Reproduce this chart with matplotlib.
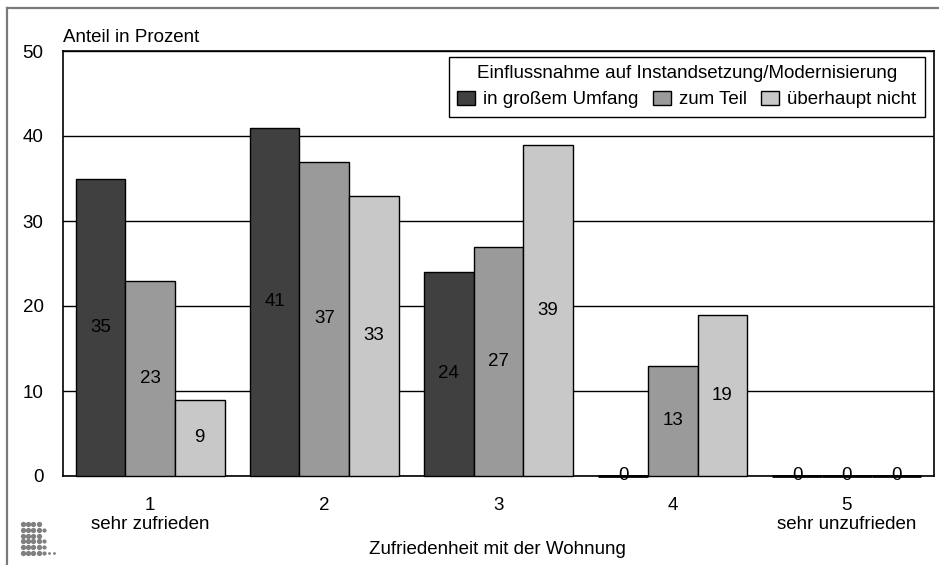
import matplotlib
matplotlib.use("Agg")
import matplotlib.pyplot as plt
import numpy as np
from matplotlib.lines import Line2D

categories = ["1\nsehr zufrieden", "2", "3", "4", "5\nsehr unzufrieden"]
series_names = ["in großem Umfang", "zum Teil", "überhaupt nicht"]
in_grossem_umfang = [35, 41, 24, 0, 0]
zum_teil = [23, 37, 27, 13, 0]
ueberhaupt_nicht = [9, 33, 39, 19, 0]
yticks = [0, 10, 20, 30, 40, 50]
legend_title = "Einflussnahme auf Instandsetzung/Modernisierung"
y_title = "Anteil in Prozent"
x_title = "Zufriedenheit mit der Wohnung"

colors = ["#404040", "#9a9a9a", "#c8c8c8"]
FS = 13.5

plt.rcParams['font.family'] = ['Liberation Sans', 'DejaVu Sans']
W, H = 939, 565
fig = plt.figure(figsize=(W / 100, H / 100), dpi=100)
ax = fig.add_axes([63 / W, (H - 476) / H, (934 - 63) / W, (476 - 51) / H])

x = np.arange(len(categories))
w = 0.285
series = [in_grossem_umfang, zum_teil, ueberhaupt_nicht]
for i, (vals, c, name) in enumerate(zip(series, colors, series_names)):
    pos = x + (i - 1) * w
    lws = [1.0 if v > 0 else 2.0 for v in vals]
    ax.bar(pos, vals, w, color=c, edgecolor='black', linewidth=lws, label=name,
           zorder=3, clip_on=False)
    for xi, v in zip(pos, vals):
        ax.text(xi, v / 2, str(v), ha='center', va='center', fontsize=FS, zorder=4)

ax.set_xlim(-0.5, 4.5)
ax.set_ylim(0, 50)
ax.set_yticks(yticks)
ax.set_yticklabels([str(t) for t in yticks], fontsize=FS)
ax.set_xticks(x)
ax.set_xticklabels(categories, fontsize=FS)
ax.tick_params(axis='both', length=0)
ax.tick_params(axis='y', pad=14)
ax.tick_params(axis='x', pad=15)
ax.yaxis.grid(True, color='black', linewidth=1)
ax.set_axisbelow(True)
for s in ax.spines.values():
    s.set_linewidth(1.2)
    s.set_color('black')

fig.text(63 / W, 1 - 37 / H, y_title, ha='left', va='center', fontsize=FS)
fig.text(497 / W, 1 - 549 / H, x_title, ha='center', va='center', fontsize=FS)

leg = ax.legend(loc='upper right', bbox_to_anchor=(925 / W, 1 - 57 / H),
                bbox_transform=fig.transFigure, borderaxespad=0, ncol=3,
                title=legend_title, title_fontsize=FS, fontsize=FS,
                handlelength=0.95, handleheight=0.75, handletextpad=0.45,
                columnspacing=0.75, fancybox=False, framealpha=1,
                edgecolor='black', borderpad=0.45, labelspacing=0.2)
leg.get_frame().set_linewidth(1.0)
leg._legend_box.sep = 6

# outer frame
fig.add_artist(Line2D([7 / W, 1], [1 - 8 / H, 1 - 8 / H], color='#7a7a7a', lw=1.6))
fig.add_artist(Line2D([7 / W, 7 / W], [0, 1 - 8 / H], color='#7a7a7a', lw=1.6))

# small logo of dots
rows = [4, 5, 4, 5, 5, 7]
for r, n in enumerate(rows):
    for cidx in range(n):
        px = 23 + cidx * 5.2
        py = 524 + r * 5.8
        size = 3.8 if cidx < 4 else (3.0 if cidx == 4 else 2.0)
        fig.add_artist(Line2D([px / W], [1 - py / H], marker='o', markersize=size,
                              color='#7f7f7f', markeredgewidth=0, linestyle='none'))

fig.savefig("out.png", dpi=100)
